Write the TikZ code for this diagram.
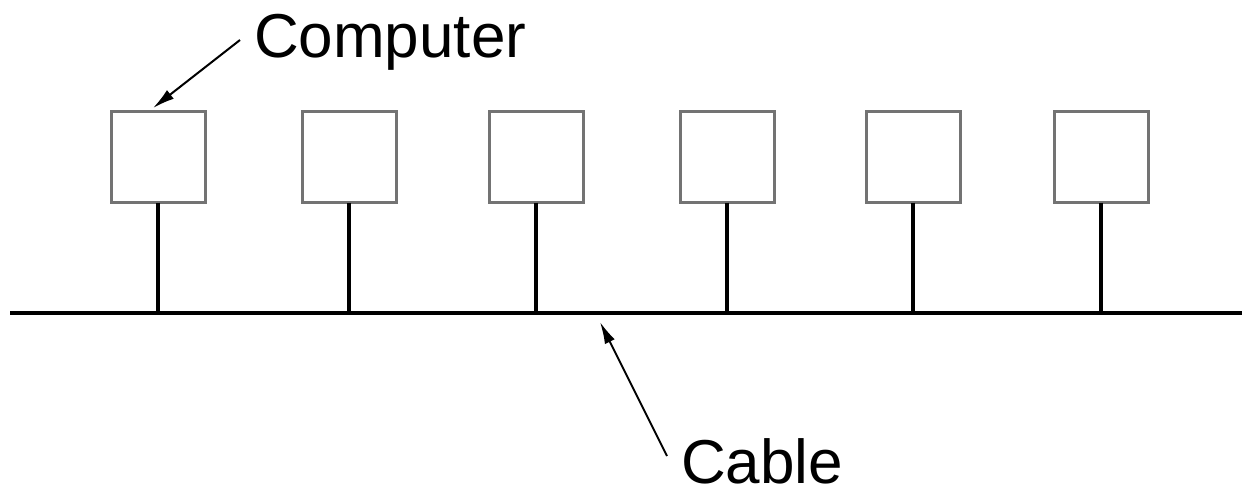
\documentclass[tikz,border=0pt]{standalone}
\usepackage{fontspec}
\setmainfont{Liberation Sans}
\usetikzlibrary{arrows.meta}
\begin{document}
\begin{tikzpicture}[x=0.5pt,y=-0.5pt,
  station/.style={draw=boxColor,line width=1.5pt,minimum width=47pt,minimum height=45.5pt,inner sep=0pt,outer sep=0pt},
  label/.style={text=black,inner sep=0pt,outer sep=0pt,font=\fontsize{31}{36}\selectfont},
  pointer/.style={draw=black,line width=1pt,-{Latex[length=11pt,width=5.5pt]}},
  wire/.style={draw=black,line width=1.7pt}]
\definecolor{boxColor}{gray}{0.45}
\path[use as bounding box] (0,0) rectangle (1247,494);

% the shared cable
\coordinate (cableW) at (10,312.5);
\coordinate (cableE) at (1242,312.5);
\draw[line width=2pt] (cableW) -- (cableE);

% computers hanging off the cable
\foreach \n/\x in {1/158,2/349,3/536,4/727,5/913,6/1101}{
  \node[station] (pc\n) at (\x,157) {};
  \coordinate (tap\n) at (\x,312.5);
  \draw[wire] (pc\n.south) -- (tap\n);
}

% labels
\node[label,anchor=base west] (computer) at (254,57) {Computer};
\node[label,anchor=base west] (cable) at (681,483) {Cable};
\coordinate (computerTail) at (240,40);
\coordinate (computerTip) at (153,108);
\coordinate (cableTail) at (667,456);
\coordinate (cableTip) at (600,322);
\draw[pointer] (computerTail) -- (computerTip);
\draw[pointer] (cableTail) -- (cableTip);
\end{tikzpicture}
\end{document}
